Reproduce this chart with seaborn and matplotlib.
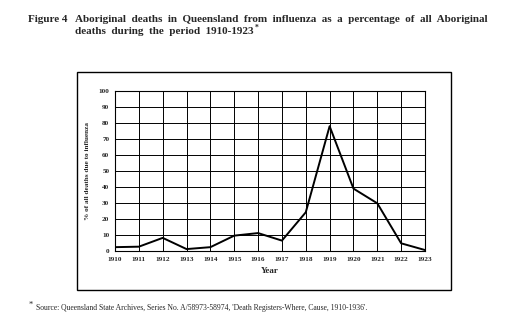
import matplotlib
matplotlib.use("Agg")
import matplotlib.pyplot as plt
import seaborn as sns
import pandas as pd
from matplotlib.patches import Rectangle

years = list(range(1910, 1924))
pct_influenza = [2.4, 2.7, 8.2, 1.2, 2.4, 9.6, 11.2, 6.5, 24.2, 78.0, 39.0, 29.8, 4.8, 0.6]
y_ticks = list(range(0, 101, 10))

df = pd.DataFrame({"Year": years, "Pct": pct_influenza})

sns.set_theme(style="white")
plt.rcParams["font.family"] = ["Liberation Serif", "DejaVu Serif"]

W, H = 510, 328
fig = plt.figure(figsize=(W / 100, H / 100), dpi=100)

def fx(px):
    return px / W

def fy(py):
    return 1 - py / H

# plot area in pixels
left, right, top, bottom = 115, 425, 91, 251
ax = fig.add_axes([fx(left), fy(bottom), fx(right - left), (bottom - top) / H])

sns.lineplot(data=df, x="Year", y="Pct", ax=ax, color="black", linewidth=1.4)

ax.set_xlim(1910, 1923)
ax.set_ylim(0, 100)
ax.set_xticks(years)
ax.set_yticks(y_ticks)
ax.set_xticklabels([str(y) for y in years], fontsize=5.2, fontweight="bold")
ax.set_yticklabels([str(v) for v in y_ticks], fontsize=5.2, fontweight="bold")
ax.tick_params(axis="both", length=0, pad=4)
ax.grid(True, color="black", linewidth=0.7)
for s in ax.spines.values():
    s.set_color("black")
    s.set_linewidth(0.8)
ax.set_xlabel("Year", fontsize=6.5, fontweight="bold", labelpad=4)
ax.set_ylabel("% of all deaths due to influenza", fontsize=5.2, fontweight="bold", labelpad=6)

# outer frame around the chart
fig.patches.append(Rectangle((fx(77), fy(290)), fx(451 - 77), (290 - 72) / H,
                             transform=fig.transFigure, fill=False,
                             edgecolor="black", linewidth=1.0))

title_fs = 8.0
fig.text(fx(28), fy(22), "Figure 4", fontsize=title_fs, fontweight="bold", ha="left", va="baseline")
fig.text(fx(75), fy(22), "Aboriginal  deaths  in  Queensland  from  influenza  as  a  percentage  of  all  Aboriginal",
         fontsize=title_fs, fontweight="bold", ha="left", va="baseline")
line2 = fig.text(fx(75), fy(34), "deaths  during  the  period  1910-1923",
                 fontsize=title_fs, fontweight="bold", ha="left", va="baseline")

# superscript footnote marker after the second line
fig.canvas.draw()
bb = line2.get_window_extent(renderer=fig.canvas.get_renderer())
fig.text((bb.x1 + 1) / W, fy(30), "*", fontsize=5.5, fontweight="bold",
         ha="left", va="baseline")

fig.text(fx(29), fy(307), "*", fontsize=6, ha="left", va="baseline")
fig.text(fx(36), fy(310), "Source: Queensland State Archives, Series No. A/58973-58974, 'Death Registers-Where, Cause, 1910-1936'.",
         fontsize=5.5, ha="left", va="baseline")

fig.savefig("out.png", dpi=100, facecolor="white")
